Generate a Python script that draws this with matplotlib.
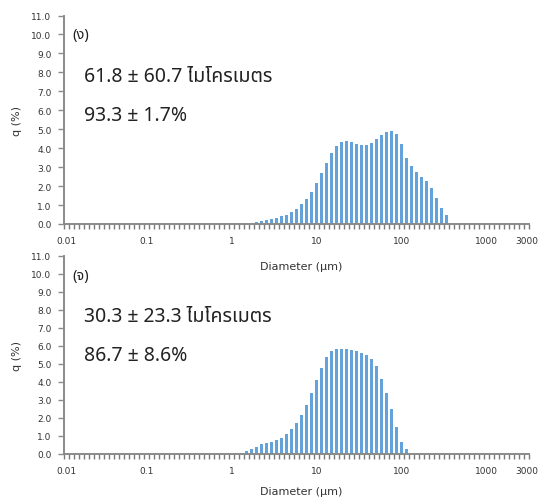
import matplotlib
matplotlib.use("Agg")
import matplotlib.pyplot as plt
import matplotlib.transforms as mtransforms
import numpy as np

# Size classes (µm) of the particle size analyser (93 channels)
diameters = [0.011, 0.013, 0.015, 0.017, 0.020, 0.023, 0.026, 0.030, 0.034, 0.039,
             0.044, 0.051, 0.058, 0.067, 0.076, 0.087, 0.100, 0.115, 0.131, 0.150,
             0.172, 0.197, 0.226, 0.259, 0.296, 0.339, 0.389, 0.445, 0.510, 0.584,
             0.669, 0.766, 0.877, 1.005, 1.151, 1.318, 1.510, 1.729, 1.981, 2.269,
             2.599, 2.976, 3.409, 3.905, 4.472, 5.122, 5.867, 6.720, 7.697, 8.816,
             10.097, 11.565, 13.246, 15.172, 17.377, 19.904, 22.797, 26.111, 29.907, 34.255,
             39.234, 44.938, 51.471, 58.953, 67.523, 77.339, 88.583, 101.460, 116.210, 133.103,
             152.453, 174.616, 200.000, 229.075, 262.376, 300.518, 344.206, 394.244, 451.556, 517.200,
             592.387, 678.504, 777.141, 890.116, 1019.515, 1167.725, 1337.481, 1531.914, 1754.613, 2009.687,
             2301.841, 2636.467, 3000.000]

# q (%) for the channels that are non-zero; first channel of each series
top_first_diameter = 1.981
top_q = [0.09, 0.16, 0.21, 0.27, 0.34, 0.41, 0.50, 0.62, 0.80, 1.03,
         1.33, 1.68, 2.16, 2.68, 3.24, 3.74, 4.10, 4.31, 4.36, 4.33,
         4.24, 4.15, 4.15, 4.29, 4.49, 4.70, 4.88, 4.91, 4.73, 4.22,
         3.49, 3.05, 2.75, 2.50, 2.25, 1.90, 1.38, 0.85, 0.48]

bottom_first_diameter = 1.318
bottom_q = [0.07, 0.17, 0.28, 0.41, 0.54, 0.63, 0.69, 0.76, 0.87, 1.09,
            1.39, 1.71, 2.15, 2.71, 3.38, 4.10, 4.80, 5.37, 5.70, 5.84,
            5.86, 5.82, 5.76, 5.70, 5.62, 5.52, 5.29, 4.88, 4.15, 3.40,
            2.50, 1.48, 0.68, 0.30]

x_tick_labels = ["0.01", "0.1", "1", "10", "100", "1000", "3000"]
y_ticks = [0.0, 1.0, 2.0, 3.0, 4.0, 5.0, 6.0, 7.0, 8.0, 9.0, 10.0, 11.0]

panel_tags = ["(ง)", "(จ)"]
size_texts = ["61.8 ± 60.7 ไมโครเมตร", "30.3 ± 23.3 ไมโครเมตร"]
pct_texts = ["93.3 ± 1.7%", "86.7 ± 8.6%"]

BAR = "#64A2DC"
AXC = "#8a8a8a"
TXT = "#333333"
THAI = ["Noto Sans Thai", "Noto Sans", "DejaVu Sans"]

W, H = 538, 502
fig = plt.figure(figsize=(W / 100, H / 100), dpi=100)
fig.patch.set_facecolor("white")
ax_top = fig.add_axes([64 / W, (H - 225) / H, 465 / W, 208.5 / H])
ax_bot = fig.add_axes([64 / W, (H - 455) / H, 465 / W, 198 / H])
axes_h_px = [208.5, 198.0]
xlabel_off_px = [41.5, 37.0]

logd = np.log10(diameters)
n = len(diameters)


def full_series(first_d, q):
    start = int(np.argmin(np.abs(logd - np.log10(first_d))))
    vals = np.zeros(n)
    vals[start:start + len(q)] = q
    return vals


tick_pos = [int(np.argmin(np.abs(logd - np.log10(float(t))))) for t in x_tick_labels]

series = [full_series(top_first_diameter, top_q), full_series(bottom_first_diameter, bottom_q)]
text_y = [(10.0, 7.8, 5.75), (9.9, 7.65, 5.5)]

for k, ax in enumerate([ax_top, ax_bot]):
    idx = np.arange(n)
    vals = series[k]
    mask = vals > 0
    ax.bar(idx[mask], vals[mask], width=0.55, color=BAR, linewidth=0)
    ax.set_xlim(-0.5, n - 0.5)
    ax.set_ylim(0, 11)
    ax.set_yticks(y_ticks)
    ax.set_yticklabels([f"{v:.1f}" for v in y_ticks])
    ax.set_xticks(tick_pos)
    ax.set_xticklabels(x_tick_labels)
    ax.set_xticks(np.arange(-0.5, n, 1.0), minor=True)
    for s in ["top", "right"]:
        ax.spines[s].set_visible(False)
    for s in ["left", "bottom"]:
        ax.spines[s].set_color(AXC)
        ax.spines[s].set_linewidth(1.4)
    ax.tick_params(axis="y", direction="out", length=4, width=1.0, color=AXC,
                   labelsize=6.5, labelcolor=TXT, pad=5)
    ax.tick_params(axis="x", which="major", length=0, labelsize=6.5, labelcolor=TXT, pad=8.3)
    ax.tick_params(axis="x", which="minor", direction="out", length=3.5, width=1.0, color="#7a7a7a")
    ax.set_xlabel("Diameter (μm)", fontsize=8, color=TXT, va="center")
    ax.xaxis.set_label_coords(0.51, -xlabel_off_px[k] / axes_h_px[k])
    ax.set_ylabel("q (%)", fontsize=8, color=TXT, va="center")
    ax.yaxis.set_label_coords(-(64 - 17) / 465, 0.5)
    tr = mtransforms.blended_transform_factory(ax.transAxes, ax.transData)
    ax.text(0.017, text_y[k][0], panel_tags[k], transform=tr, family=THAI,
            fontsize=10.5, fontweight="bold", color="#222222", va="center", ha="left")
    ax.text(0.043, text_y[k][1], size_texts[k], transform=tr, family=THAI,
            fontsize=14, color="#222222", va="center", ha="left")
    ax.text(0.043, text_y[k][2], pct_texts[k], transform=tr, family=THAI,
            fontsize=14, color="#222222", va="center", ha="left")
    ax.set_facecolor("none")

fig.savefig("out.png", dpi=100, facecolor="white")
